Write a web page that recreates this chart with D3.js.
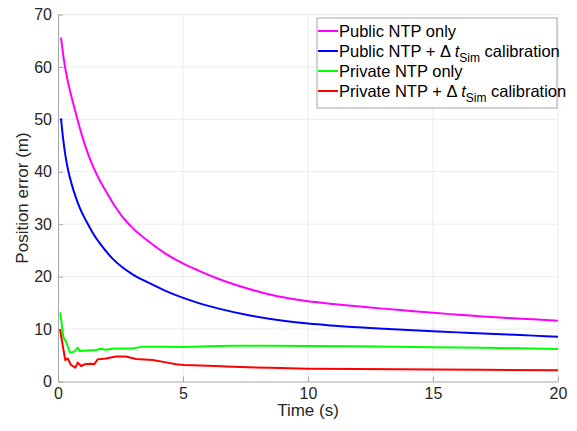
<!DOCTYPE html>
<html><head><meta charset="utf-8">
<script src="https://cdn.jsdelivr.net/npm/d3@7"></script>
<style>body{margin:0;background:#fff;} svg{display:block;}</style>
</head><body>
<svg id="c" width="577" height="431"></svg>
<script>
const xTicks = [0,5,10,15,20];
const yTicks = [0,10,20,30,40,50,60,70];
const seriesNames = ["Public NTP only","Public NTP + \u0394 t_Sim calibration","Private NTP only","Private NTP + \u0394 t_Sim calibration"];
const seriesColors = ["#ff00ff","#0000ff","#00ff00","#ff0000"];
const publicOnly = [[0.12,65.6],[0.2,62.6],[0.28,60],[0.4,57.1],[0.55,54.1],[0.75,50.5],[0.88,48.2],[1.1,44.8],[1.35,41.6],[1.6,39],[1.88,36.6],[2.2,34],[2.55,31.6],[3.0,29.2],[3.68,26.5],[4.3,24.4],[5.01,22.5],[5.6,21.2],[6.35,19.7],[7.0,18.6],[7.68,17.6],[8.3,16.8],[9.01,16.05],[10.01,15.3],[10.88,14.85],[12,14.35],[13,13.9],[14,13.5],[15,13.1],[16,12.75],[17,12.4],[18,12.1],[19,11.85],[20,11.6]];
const publicCal = [[0.12,50.2],[0.2,46.5],[0.3,43],[0.41,40.2],[0.55,37.6],[0.7,35.3],[0.88,33],[1.05,31.3],[1.2,30],[1.41,28.2],[1.7,26.2],[2.0,24.4],[2.21,23.3],[2.6,21.7],[3.0,20.4],[3.68,18.7],[4.3,17.3],[5.01,15.95],[5.6,15.0],[6.35,14.0],[7.68,12.6],[9.01,11.6],[10.01,11.05],[10.88,10.7],[12,10.35],[13,10.08],[14,9.83],[15,9.6],[16,9.37],[17,9.15],[18,8.95],[19,8.75],[20,8.55]];
const privateOnly = [[0.09,13.2],[0.21,8.55],[0.32,7.6],[0.48,5.5],[0.65,5.7],[0.79,6.45],[0.88,5.8],[1.12,5.9],[1.52,6.0],[1.72,6.25],[1.92,6.05],[2.25,6.3],[2.99,6.3],[3.39,6.65],[4.2,6.65],[5.05,6.6],[6,6.7],[7,6.8],[8.5,6.8],[10,6.75],[12,6.7],[15,6.55],[17,6.45],[20,6.2]];
const privateCal = [[0.08,10],[0.21,6.3],[0.29,4.1],[0.39,4.4],[0.52,3.15],[0.69,2.65],[0.79,3.6],[0.92,2.95],[1.12,3.35],[1.32,3.4],[1.45,3.3],[1.59,4.25],[1.72,4.3],[1.92,4.4],[2.32,4.75],[2.72,4.75],[3.12,4.3],[3.79,4.1],[4.32,3.65],[4.72,3.3],[5.05,3.15],[6,3.0],[7,2.8],[8.5,2.6],[10,2.45],[12,2.4],[15,2.3],[17,2.25],[20,2.15]];
const allSeries = [publicOnly, publicCal, privateOnly, privateCal];

const svg = d3.select("#c");
const x = d3.scaleLinear().domain([0,20]).range([58, 558]);
const y = d3.scaleLinear().domain([0,70]).range([381.5, 14.5]);
const font = "Liberation Sans, Arial, Helvetica, sans-serif";

// grid
const g = svg.append("g");
g.selectAll(".gx").data(xTicks.slice(1)).join("line")
  .attr("x1", d=>x(d)).attr("x2", d=>x(d)).attr("y1", y(0)).attr("y2", y(70))
  .attr("stroke", "#ebebeb").attr("stroke-width", 1);
g.selectAll(".gy").data(yTicks.slice(1)).join("line")
  .attr("y1", d=>y(d)).attr("y2", d=>y(d)).attr("x1", x(0)).attr("x2", x(20))
  .attr("stroke", "#ebebeb").attr("stroke-width", 1);

// axes
const xAxis = d3.axisBottom(x).tickValues(xTicks).tickSizeInner(-5).tickSizeOuter(0).tickPadding(6);
const yAxis = d3.axisLeft(y).tickValues(yTicks).tickSizeInner(-5).tickSizeOuter(0).tickPadding(6);
const ax = svg.append("g").attr("transform", `translate(0,${y(0)})`).call(xAxis);
const ay = svg.append("g").attr("transform", `translate(${x(0)},0)`).call(yAxis);
[ax, ay].forEach(a => {
  a.select(".domain").attr("stroke", "#a6a6a6");
  a.selectAll(".tick line").attr("stroke", "#a6a6a6");
  a.selectAll(".tick text").attr("fill", "#262626").style("font-family", font).style("font-size", "16px");
});

// lines
allSeries.forEach((s,i) => {
  const line = d3.line().x(d=>x(d[0])).y(d=>y(d[1])).curve(i < 2 ? d3.curveMonotoneX : d3.curveLinear);
  svg.append("path").datum(s).attr("d", line).attr("fill","none")
    .attr("stroke", seriesColors[i]).attr("stroke-width", 2).attr("stroke-linejoin","round");
});

// axis labels
svg.append("text").attr("x", (x(0)+x(20))/2).attr("y", 416).attr("text-anchor","middle")
  .attr("fill","#262626").style("font-family", font).style("font-size","17px").text("Time (s)");
svg.append("text").attr("transform", `translate(28,${(y(0)+y(70))/2}) rotate(-90)`).attr("text-anchor","middle")
  .attr("fill","#262626").style("font-family", font).style("font-size","17px").text("Position error (m)");

// legend
const lg = svg.append("g");
lg.append("rect").attr("x", 317).attr("y", 18).attr("width", 240).attr("height", 90)
  .attr("fill","#fff").attr("stroke","#a6a6a6").attr("stroke-width",1);
const rowY = [31, 51, 71, 91];
seriesNames.forEach((name,i) => {
  lg.append("line").attr("x1", 318).attr("x2", 338).attr("y1", rowY[i]).attr("y2", rowY[i])
    .attr("stroke", seriesColors[i]).attr("stroke-width", 2);
  const t = lg.append("text").attr("x", 339).attr("y", rowY[i] + 5.5)
    .attr("fill","#000").style("font-family", font).style("font-size","16.5px");
  if (name.includes("t_Sim")) {
    const [pre, post] = name.split("t_Sim");
    t.append("tspan").text(pre);
    t.append("tspan").style("font-style","italic").text("t");
    t.append("tspan").attr("dy", 5).style("font-size","12px").text("Sim");
    t.append("tspan").attr("dy", -5).text(post);
  } else {
    t.text(name);
  }
});
</script>
</body></html>
